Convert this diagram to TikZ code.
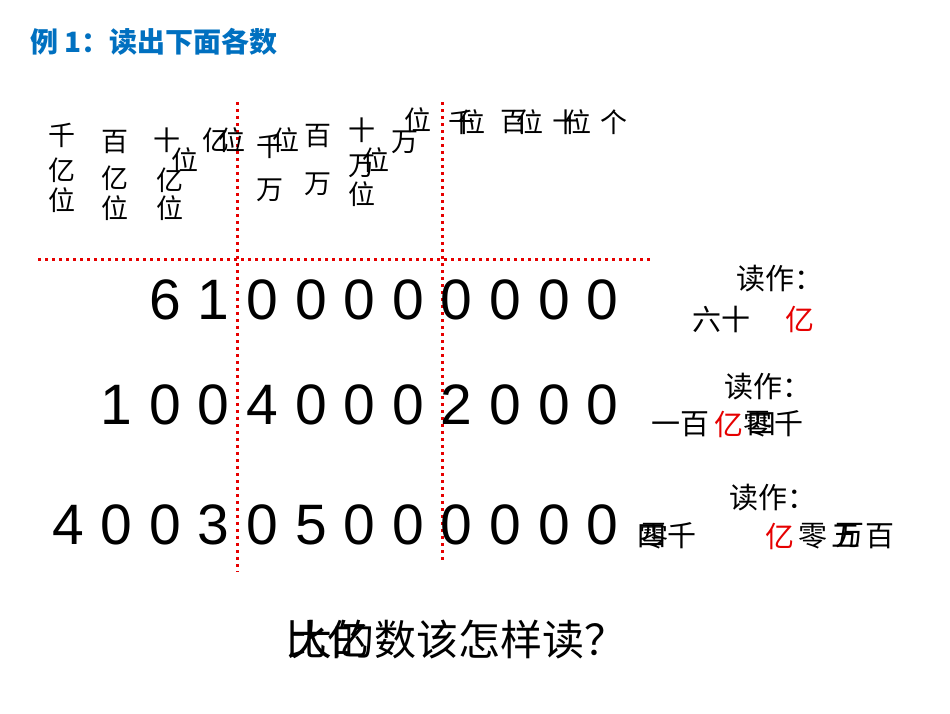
\documentclass[tikz,border=0pt]{standalone}
\usepackage{fontspec}
\setmainfont{Liberation Sans}
\newfontfamily\cjk{Noto Sans CJK SC}
\definecolor{ttl}{RGB}{0,112,192}
\definecolor{rd}{RGB}{230,0,0}
\begin{document}
\begin{tikzpicture}[x=1pt,y=-1pt,
  hd/.style={inner sep=0pt,font=\cjk\fontsize{27}{27}\selectfont},
  rdg/.style={inner sep=0pt,font=\cjk\fontsize{29}{29}\selectfont},
  dg/.style={inner sep=0pt,font=\fontsize{57}{57}\selectfont},
  dotline/.style={rd,line width=3pt,dash pattern=on 3pt off 4pt}]
\useasboundingbox[fill=white] (0,0) rectangle (950,713);
\node[inner sep=0pt,anchor=west,text=ttl,font=\cjk\bfseries\fontsize{28}{28}\selectfont] (title) at (30,42) {例 1：读出下面各数};
% dotted lines
\coordinate (v1a) at (237,102); \coordinate (v1b) at (237,572);
\coordinate (v2a) at (442,102); \coordinate (v2b) at (442,562);
\coordinate (ha) at (38,259); \coordinate (hb) at (650,259);
\draw[dotline] (v1a)--(v1b); \draw[dotline] (v2a)--(v2b); \draw[dotline] (ha)--(hb);
% header
\node[hd] (h1) at (62,135) {千}; \node[hd] (h2) at (62,170) {亿}; \node[hd] (h3) at (62,200) {位};
\node[hd] (h4) at (115,142) {百}; \node[hd] (h5) at (115,178) {亿}; \node[hd] (h6) at (115,208) {位};
\node[hd] (h7) at (167,140) {十}; \node[hd] (h8) at (185,160) {位}; \node[hd] (h9) at (170,180) {亿}; \node[hd] (h10) at (170,208) {位};
\node[hd] (h11) at (216,140) {亿}; \node[hd] (h12) at (232,140) {位};
\node[hd] (h13) at (270,146) {千}; \node[hd] (h14) at (286,140) {位}; \node[hd] (h15) at (270,190) {万};
\node[hd] (h16) at (318,136) {百}; \node[hd] (h17) at (318,184) {万};
\node[hd] (h18) at (362,130) {十}; \node[hd] (h19) at (362,166) {万}; \node[hd] (h20) at (376,160) {位}; \node[hd] (h21) at (362,194) {位};
\node[hd] (h22) at (418,120) {位}; \node[hd] (h23) at (405,142) {万};
\node[hd] (h24) at (462,122) {千}; \node[hd] (h25) at (472,122) {位};
\node[hd] (h26) at (514,122) {百}; \node[hd] (h27) at (530,122) {位};
\node[hd] (h28) at (566,122) {十}; \node[hd] (h29) at (578,122) {位};
\node[hd] (h30) at (614,122) {个};
% digits
\foreach \d [count=\i from 2] in {6,1,0,0,0,0,0,0,0,0}
  \node[dg] (a\i) at (68+48.6*\i,300) {\d};
\foreach \d [count=\i from 1] in {1,0,0,4,0,0,0,2,0,0,0}
  \node[dg] (b\i) at (68+48.6*\i,405) {\d};
\foreach \d [count=\i from 0] in {4,0,0,3,0,5,0,0,0,0,0,0}
  \node[dg] (c\i) at (68+48.6*\i,525) {\d};
% readings
\node[rdg] (r1) at (780,279) {读作：};
\node[rdg] (r1a) at (721,319) {六十};
\node[rdg,text=rd] (r1b) at (800,319) {亿};
\node[rdg] (r2) at (768,387) {读作：};
\node[rdg] (r2a) at (680,424) {一百};
\node[rdg,text=rd] (r2b) at (729,424) {亿};
\node[rdg] (r2c) at (758,424) {零};
\node[rdg] (r2d) at (762,424) {四};
\node[rdg] (r2e) at (789,424) {千};
\node[rdg] (r3) at (773,498) {读作：};
\node[rdg] (r3a) at (652,536) {四};
\node[rdg] (r3b) at (654,536) {零};
\node[rdg] (r3c) at (682,536) {千};
\node[rdg,text=rd] (r3d) at (780,536) {亿};
\node[rdg] (r3e) at (813,536) {零};
\node[rdg] (r3f) at (846,536) {五};
\node[rdg] (r3g) at (850,536) {万};
\node[rdg] (r3h) at (880,536) {百};
% bottom question
\node[inner sep=0pt,anchor=west,font=\cjk\fontsize{42}{42}\selectfont] (q1) at (285,640) {比亿};
\node[inner sep=0pt,anchor=west,font=\cjk\fontsize{42}{42}\selectfont] (q2) at (290,640) {大的数该怎样读？};
\end{tikzpicture}
\end{document}
